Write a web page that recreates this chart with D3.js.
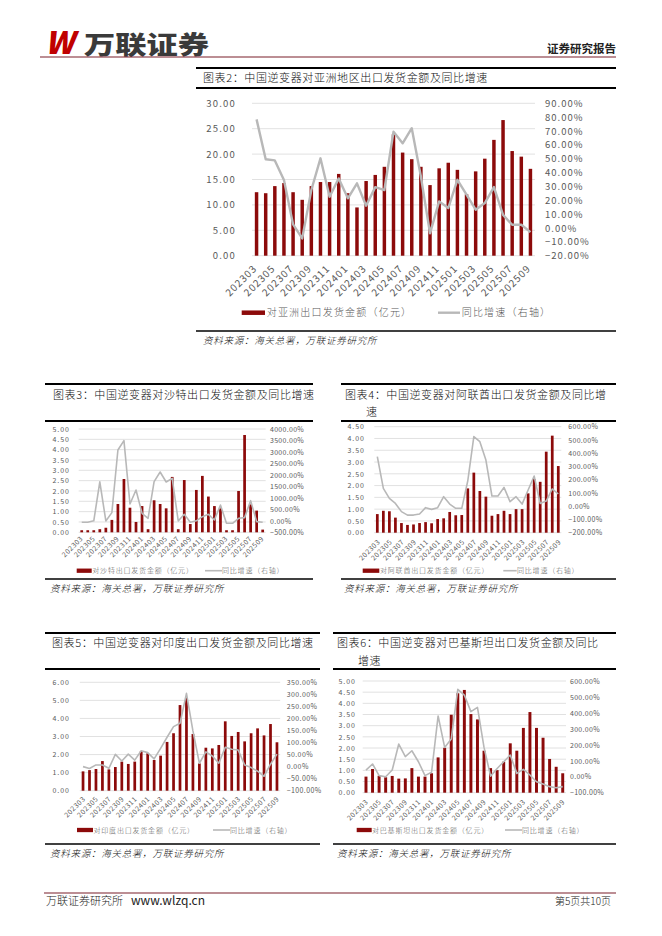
<!DOCTYPE html>
<html>
<head>
<meta charset="utf-8">
<script src="https://cdn.jsdelivr.net/npm/d3@7"></script>
<style>
  body { margin: 0; background: #fff; }
  svg text { font-family: "Noto Sans CJK SC", sans-serif; }
</style>
</head>
<body>
<svg id="page" width="662" height="936"></svg>
<script>
// months shared by all five charts
var months = ["202303","202304","202305","202306","202307","202308","202309","202310","202311","202312",
              "202401","202402","202403","202404","202405","202406","202407","202408","202409","202410","202411","202412",
              "202501","202502","202503","202504","202505","202506","202507","202508","202509"];

// 亚洲 (亿元, %)
var asiaAmt = [12.5,12.3,13.7,14.3,12.5,11.0,13.7,14.5,14.5,16.1,12.3,9.5,14.7,15.9,17.5,23.9,20.3,19.0,17.5,13.9,17.2,18.3,16.9,12.1,16.6,19.1,22.8,26.7,20.6,19.5,17.1];
var asiaYoy = [78.4,49.6,48.8,34.6,2.6,-7.5,27.4,50.3,22.6,35.8,21.4,32.2,16.1,29.5,27.4,69.5,61.1,72.0,37.1,-3.9,19.2,14.4,34.8,24.0,13.2,18.0,29.5,9.5,2.3,2.3,-3.0];

// 沙特
var saudiAmt = [0.1,0.1,0.1,0.15,0.22,0.6,1.37,2.58,1.19,0.5,1.27,0.15,1.55,1.37,1.16,2.68,0.15,2.53,0.4,2.05,2.73,1.73,1.27,1.16,0.1,0.1,2.0,4.71,1.35,1.05,0.13];
var saudiYoy = [-65,-60,0,1700,-6,356,3085,3492,734,1344,328,110,1706,2127,1692,1850,-6,284,-65,0,182,284,37,690,-108,-108,110,139,879,-36,-65];

// 阿联酋
var uaeAmt = [0.79,0.93,0.91,0.64,0.41,0.33,0.35,0.41,0.45,0.40,0.58,0.61,0.88,0.74,0.75,1.88,2.55,1.77,1.53,0.72,0.79,0.93,0.79,1.0,1.0,1.67,2.28,2.16,3.44,4.12,2.83];
var uaeYoy = [374,135,59,21,-41,-67,-67,-59,-11,-24,-11,72,16,-16,-16,192,525,487,348,77,77,142,34,72,16,122,228,21,39,130,92];

// 印度
var indiaAmt = [1.07,1.14,1.2,1.64,1.18,1.31,1.61,1.48,1.61,2.2,2.07,1.70,1.94,2.70,3.18,4.74,5.15,3.14,1.51,2.38,2.34,2.53,3.84,3.03,3.25,2.73,3.18,3.45,3.06,3.69,2.68];
var indiaYoy = [0,-8,7,7,-7,51,23,52,27,66,58,32,76,122,166,180,304,148,14,61,44,14,80,72,69,7,-4,-19,-40,10,52];

// 巴基斯坦
var pakAmt = [0.72,1.06,0.76,0.69,0.75,0.63,0.64,1.10,0.72,0.72,0.87,1.58,2.01,3.49,4.45,4.6,3.52,3.28,1.88,1.10,1.01,1.39,2.21,1.88,2.90,3.61,2.90,2.46,1.51,1.16,0.87];
var pakYoy = [42,80,7,0,42,205,126,163,94,7,28,381,184,236,548,512,408,435,184,4,52,94,136,21,46,11,-31,-46,-62,-69,-62];

var barColor = "#8c0a0a",
    lineColor = "#b8b8b8",
    axisText = "#595959",
    numFont = "Liberation Sans, Arial, sans-serif";

var svg = d3.select("#page");

// ---------- page header / footer ----------
svg.append("text")
  .attr("x", 45).attr("y", 54)
  .attr("font-family", numFont)
  .attr("font-size", 31).attr("font-weight", 900).attr("font-style", "italic")
  .attr("fill", "#c00000")
  .text("W");
svg.append("text")
  .attr("transform", "translate(84,54) scale(1.25,1)")
  .attr("font-size", 25).attr("font-weight", 900)
  .attr("fill", "#3a3a3a")
  .text("万联证券");
svg.append("text")
  .attr("x", 616).attr("y", 53).attr("text-anchor", "end")
  .attr("font-size", 11.5).attr("font-weight", 700)
  .attr("fill", "#222")
  .text("证券研究报告");
svg.append("line")
  .attr("x1", 40).attr("x2", 616).attr("y1", 57).attr("y2", 57)
  .attr("stroke", "#7a1f2b").attr("stroke-width", 1.2);

svg.append("line")
  .attr("x1", 44).attr("x2", 616).attr("y1", 893).attr("y2", 893)
  .attr("stroke", "#7a1f2b").attr("stroke-width", 1.2);
svg.append("text")
  .attr("x", 46).attr("y", 905)
  .attr("font-size", 11).attr("font-weight", 300).attr("fill", "#222")
  .text("万联证券研究所");
svg.append("text")
  .attr("x", 131).attr("y", 905)
  .attr("font-family", "Liberation Serif, serif")
  .attr("font-size", 12).attr("fill", "#222")
  .text("www.wlzq.cn");
svg.append("text")
  .attr("x", 611).attr("y", 905).attr("text-anchor", "end")
  .attr("font-size", 10).attr("font-weight", 300).attr("fill", "#222")
  .text("第5页共10页");

// ---------- title block, source ----------
function frame(o) {
  svg.append("line")
    .attr("x1", o.x0).attr("x2", o.x1).attr("y1", o.topLine).attr("y2", o.topLine)
    .attr("stroke", "#000").attr("stroke-width", 2);
  svg.append("line")
    .attr("x1", o.x0).attr("x2", o.x1).attr("y1", o.subLine).attr("y2", o.subLine)
    .attr("stroke", "#000").attr("stroke-width", 2);
  o.title.forEach(function(t) {
    svg.append("text")
      .attr("x", t[0]).attr("y", t[1])
      .attr("font-size", o.titleSize).attr("font-weight", 300).attr("letter-spacing", 0.6)
      .attr("fill", "#111")
      .text(t[2]);
  });
  svg.append("line")
    .attr("x1", o.x0).attr("x2", o.x1).attr("y1", o.srcLine).attr("y2", o.srcLine)
    .attr("stroke", "#000").attr("stroke-width", 1.3);
  svg.append("text")
    .attr("x", o.srcX).attr("y", o.srcLine + 13)
    .attr("font-size", 9.5).attr("font-weight", 300).attr("letter-spacing", 0.75)
    .attr("font-style", "italic")
    .attr("fill", "#111")
    .text("资料来源：海关总署，万联证券研究所");
}

function legend(o) {
  var g = svg.append("g").attr("fill", axisText).attr("font-weight", 300)
    .attr("font-size", o.size).attr("letter-spacing", o.space);
  g.append("rect")
    .attr("x", o.rect[0]).attr("width", o.rect[1] - o.rect[0])
    .attr("y", o.y - o.rectH / 2).attr("height", o.rectH)
    .attr("fill", barColor);
  g.append("text").attr("x", o.text1X).attr("y", o.y).attr("dy", "0.36em").text(o.text1);
  g.append("line")
    .attr("x1", o.line[0]).attr("x2", o.line[1]).attr("y1", o.y).attr("y2", o.y)
    .attr("stroke", lineColor).attr("stroke-width", o.lineW);
  g.append("text").attr("x", o.text2X).attr("y", o.y).attr("dy", "0.36em").text("同比增速（右轴）");
}

// ---------- combo chart: bars on left axis, yoy line on right axis ----------
function drawChart(o) {
  var g = svg.append("g");

  var x = d3.scaleBand()
    .domain(months)
    .range([o.left, o.right])
    .paddingInner(o.pad).paddingOuter(o.pad / 2);
  var yL = d3.scaleLinear().domain(o.lDomain).range([o.bottom, o.top]);
  var yR = d3.scaleLinear().domain(o.rDomain).range([o.bottom, o.top]);

  var lTicks = d3.range(o.lDomain[0], o.lDomain[1] + o.lStep / 2, o.lStep),
      rTicks = d3.range(o.rDomain[0], o.rDomain[1] + o.rStep / 2, o.rStep);

  // gridlines
  g.append("g").selectAll("line")
    .data(lTicks).enter()
    .append("line")
    .attr("x1", o.left).attr("x2", o.right)
    .attr("y1", function(d) { return yL(d); })
    .attr("y2", function(d) { return yL(d); })
    .attr("stroke", "#d9d9d9").attr("stroke-width", 0.8);

  // left axis
  var axL = g.append("g")
    .attr("transform", "translate(" + o.left + ",0)")
    .call(d3.axisLeft(yL).tickValues(lTicks).tickSize(0).tickPadding(o.lPad)
      .tickFormat(d3.format(".2f")));
  axL.select(".domain").remove();
  axL.attr("font-family", numFont).attr("font-size", o.tickFont);
  axL.selectAll("text").attr("fill", axisText).attr("letter-spacing", o.lSpace);

  // right axis
  var axR = g.append("g")
    .attr("transform", "translate(" + o.right + ",0)")
    .call(d3.axisRight(yR).tickValues(rTicks).tickSize(0).tickPadding(o.rPad)
      .tickFormat(function(d) { return d3.format(".2f")(d) + "%"; }));
  axR.select(".domain").remove();
  axR.attr("font-family", numFont).attr("font-size", o.tickFont);
  axR.selectAll("text").attr("fill", axisText).attr("letter-spacing", o.rSpace);

  // bottom axis, every other month, rotated
  var axB = g.append("g")
    .attr("transform", "translate(0," + o.bottom + ")")
    .call(d3.axisBottom(x).tickValues(months.filter(function(m, i) { return i % 2 === 0; })).tickSize(0));
  axB.select(".domain").remove();
  axB.attr("font-family", numFont).attr("font-size", o.xFont);
  axB.selectAll("text")
    .attr("fill", axisText)
    .attr("letter-spacing", o.xSpace)
    .attr("text-anchor", "end")
    .attr("x", 0).attr("y", 0).attr("dy", "0.35em")
    .attr("transform", "translate(" + o.xOff[0] + "," + o.xOff[1] + ") rotate(-45)");

  // bars
  g.append("g").selectAll("rect")
    .data(o.amt).enter()
    .append("rect")
    .attr("x", function(d, i) { return x(months[i]); })
    .attr("width", x.bandwidth())
    .attr("y", function(d) { return yL(d); })
    .attr("height", function(d) { return yL(0) - yL(d); })
    .attr("fill", barColor);

  // yoy line
  var line = d3.line()
    .x(function(d, i) { return x(months[i]) + x.bandwidth() / 2; })
    .y(function(d) { return yR(d); });
  g.append("path")
    .datum(o.yoy)
    .attr("d", line)
    .attr("fill", "none")
    .attr("stroke", lineColor)
    .attr("stroke-width", o.lineW)
    .attr("stroke-linejoin", "round");
}

// ---------- 图表2 ----------
frame({x0: 196, x1: 616, topLine: 68, subLine: 88, titleSize: 11,
       title: [[203, 82, "图表2：中国逆变器对亚洲地区出口发货金额及同比增速"]],
       srcLine: 331, srcX: 203});
drawChart({left: 252, right: 535, top: 103.3, bottom: 255.7, pad: 0.62,
           amt: asiaAmt, yoy: asiaYoy,
           lDomain: [0, 30], lStep: 5, rDomain: [-20, 90], rStep: 10,
           lPad: 16, rPad: 10, tickFont: 9.5, lSpace: 1.2, rSpace: 1,
           xFont: 10, xSpace: 1, xOff: [-1.5, 11], lineW: 2.4});
legend({y: 312.7, rect: [241.7, 265], rectH: 4.5, text1X: 266.7, text1: "对亚洲出口发货金额（亿元）",
        line: [438, 460], text2X: 461.7, size: 10, space: 1.2, lineW: 2.4});

// ---------- 图表3 ----------
frame({x0: 45, x1: 313, topLine: 384, subLine: 421, titleSize: 11,
       title: [[53, 399, "图表3：中国逆变器对沙特出口发货金额及同比增速"]],
       srcLine: 579, srcX: 50});
drawChart({left: 78.7, right: 265.7, top: 429, bottom: 532.3, pad: 0.55,
           amt: saudiAmt, yoy: saudiYoy,
           lDomain: [0, 5], lStep: 0.5, rDomain: [-500, 4000], rStep: 500,
           lPad: 8.7, rPad: 4.3, tickFont: 7, lSpace: 1, rSpace: 0.3,
           xFont: 7, xSpace: 0.5, xOff: [0, 5], lineW: 1.6});
legend({y: 570.7, rect: [76.7, 91.7], rectH: 4.3, text1X: 92.3, text1: "对沙特出口发货金额（亿元）",
        line: [205, 222], text2X: 222, size: 7, space: 0.8, lineW: 1.6});

// ---------- 图表4 ----------
frame({x0: 341, x1: 616, topLine: 384, subLine: 421, titleSize: 11,
       title: [[345, 399, "图表4：中国逆变器对阿联酋出口发货金额及同比增"], [366, 416, "速"]],
       srcLine: 579, srcX: 344});
drawChart({left: 374.3, right: 561.3, top: 426.7, bottom: 532.7, pad: 0.55,
           amt: uaeAmt, yoy: uaeYoy,
           lDomain: [0, 4.5], lStep: 0.5, rDomain: [-200, 600], rStep: 100,
           lPad: 9.3, rPad: 7, tickFont: 7, lSpace: 1, rSpace: 0.3,
           xFont: 7, xSpace: 0.5, xOff: [1.5, 8], lineW: 1.6});
legend({y: 570.7, rect: [362.7, 379.3], rectH: 4.3, text1X: 380, text1: "对阿联酋出口发货金额（亿元）",
        line: [503.3, 516.7], text2X: 517, size: 7, space: 0.8, lineW: 1.6});

// ---------- 图表5 ----------
frame({x0: 45, x1: 320, topLine: 633, subLine: 669, titleSize: 11,
       title: [[52, 647, "图表5：中国逆变器对印度出口发货金额及同比增速"]],
       srcLine: 844, srcX: 50});
drawChart({left: 79.8, right: 280.2, top: 682.3, bottom: 790.7, pad: 0.58,
           amt: indiaAmt, yoy: indiaYoy,
           lDomain: [0, 6], lStep: 1, rDomain: [-100, 350], rStep: 50,
           lPad: 9.8, rPad: 6.5, tickFont: 7, lSpace: 1, rSpace: 0.4,
           xFont: 7, xSpace: 0.5, xOff: [1, 7], lineW: 1.6});
legend({y: 830, rect: [77, 93], rectH: 4.3, text1X: 93.5, text1: "对印度出口发货金额（亿元）",
        line: [213, 230], text2X: 230, size: 7, space: 0.8, lineW: 1.6});

// ---------- 图表6 ----------
frame({x0: 333, x1: 616, topLine: 633, subLine: 669, titleSize: 11,
       title: [[337, 647, "图表6：中国逆变器对巴基斯坦出口发货金额及同比"], [358, 665, "增速"]],
       srcLine: 844, srcX: 337});
drawChart({left: 362.7, right: 566, top: 681, bottom: 792.7, pad: 0.55,
           amt: pakAmt, yoy: pakYoy,
           lDomain: [0, 5], lStep: 0.5, rDomain: [-100, 600], rStep: 100,
           lPad: 6.7, rPad: 4, tickFont: 7, lSpace: 1, rSpace: 0.3,
           xFont: 7, xSpace: 0.5, xOff: [0.8, 8], lineW: 1.6});
legend({y: 830, rect: [356.7, 371.7], rectH: 4.3, text1X: 372, text1: "对巴基斯坦出口发货金额（亿元）",
        line: [505, 522], text2X: 522, size: 7, space: 0.8, lineW: 1.6});
</script>
</body>
</html>
